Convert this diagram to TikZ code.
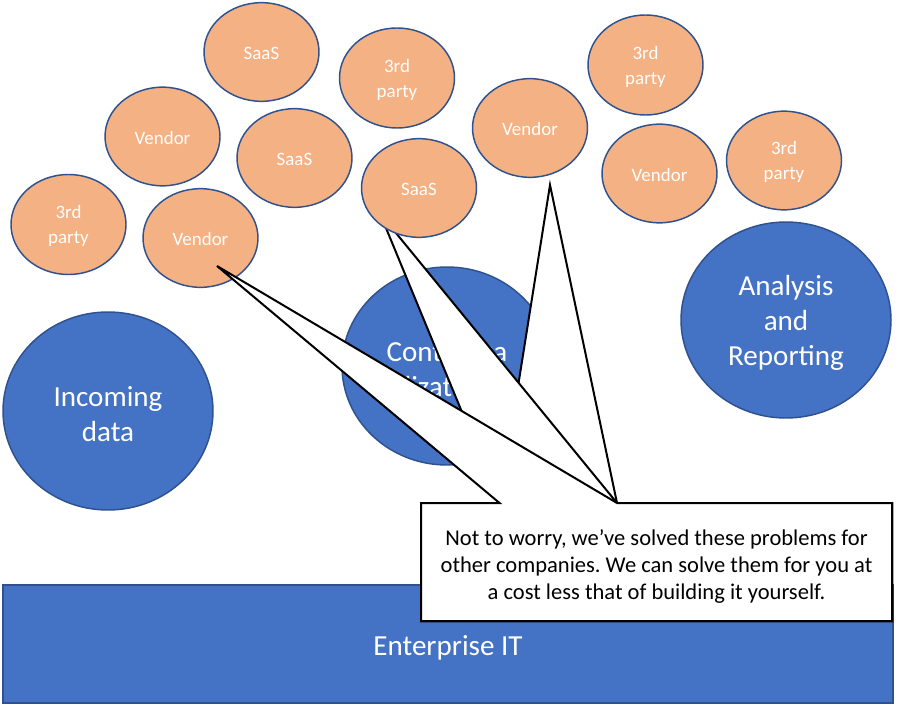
\documentclass[tikz,border=0pt]{standalone}
\usepackage{fontspec}
\setmainfont{Carlito}
\usetikzlibrary{shapes.geometric}
\definecolor{orangefill}{HTML}{F4B183}
\definecolor{darkblue}{HTML}{2F528F}
\definecolor{midblue}{HTML}{4472C4}
\frenchspacing
\begin{document}
\begin{tikzpicture}[x=0.75pt,y=-0.75pt,
  smalltext/.style={align=center, inner sep=0pt, text=white, yshift=-1.1pt,
    font=\fontsize{14.2}{18.75}\selectfont},
  bigtext/.style={align=center, inner sep=0pt, text=white, yshift=-2.4pt,
    font=\fontsize{21.8}{26.25}\selectfont},
  small/.style={ellipse, draw=darkblue, line width=1.1pt, fill=orangefill,
    inner sep=0pt, minimum width=86.25pt, minimum height=74pt,
    label={[smalltext]center:{#1}}},
  big/.style={ellipse, draw=darkblue, line width=1.1pt, fill=midblue,
    inner sep=0pt, minimum width=157.5pt, minimum height=148.5pt,
    label={[bigtext]center:{#1}}},
  bar/.style={rectangle, draw=darkblue, line width=1.1pt, fill=midblue,
    inner sep=0pt, minimum width=667.5pt, minimum height=88.5pt,
    label={[bigtext, yshift=-0.6pt]center:{#1}}},
  callout/.style={draw=black, line width=1.5pt, fill=white, line join=miter},
  notetext/.style={align=center, inner sep=0pt, text=black,
    font=\fontsize{16.9}{20.25}\selectfont}]
\useasboundingbox (0,0) rectangle (898,709);

% base bar
\node[bar={Enterprise IT}] (it) at (448,644) {};

% large circles
\node[big={Incoming\\data}] (inc) at (108,411) {};
\node[big={Contextua\\lization}] (ctx) at (447,366) {};
\node[big={Analysis\\and\\Reporting}, minimum height=147pt] (ana) at (786,320) {};

% small ellipses
\node[small={SaaS}] (s1) at (261.5,52) {};
\node[small={3rd\\party}, minimum height=75pt] (p1) at (397,78) {};
\node[small={Vendor}] (v1) at (162.5,136.5) {};
\node[small={SaaS}] (s2) at (294.5,158) {};
\node[small={3rd\\party}, minimum height=75pt] (p2) at (68.5,224.5) {};
\node[small={Vendor}] (v2) at (200.5,238) {};
\node[small={Vendor}] (v3) at (530,128) {};
\node[small={3rd\\party}, minimum height=75pt] (p3) at (645.5,65) {};
\node[small={Vendor}] (v4) at (659.5,173.5) {};
\node[small={3rd\\party}] (p4) at (784,160.5) {};

% callout geometry
\coordinate (nTL) at (421,503);
\coordinate (nTR) at (892,503);
\coordinate (nBR) at (892,621);
\coordinate (nBL) at (421,621);
\coordinate (nb1) at (499.5,503);
\coordinate (nb2) at (617,503);
\coordinate (tipV3) at (550,185);
\coordinate (tipS3) at (380,213.5);
\coordinate (tipV2) at (217,266);

\filldraw[callout] (nTL) -- (nb1) -- (tipV3) -- (nb2) -- (nTR) -- (nBR) -- (nBL) -- cycle;
\filldraw[callout] (nTL) -- (nb1) -- (tipS3) -- (nb2) -- (nTR) -- (nBR) -- (nBL) -- cycle;
\node[small={SaaS}] (s3) at (419,188) {};
\filldraw[callout] (nTL) -- (nb1) -- (tipV2) -- (nb2) -- (nTR) -- (nBR) -- (nBL) -- cycle;

\node[notetext] (note) at (656.5,566.5) {Not to worry, we’ve solved these problems for\\other companies. We can solve them for you at\\a cost less that of building it yourself.};
\end{tikzpicture}
\end{document}
